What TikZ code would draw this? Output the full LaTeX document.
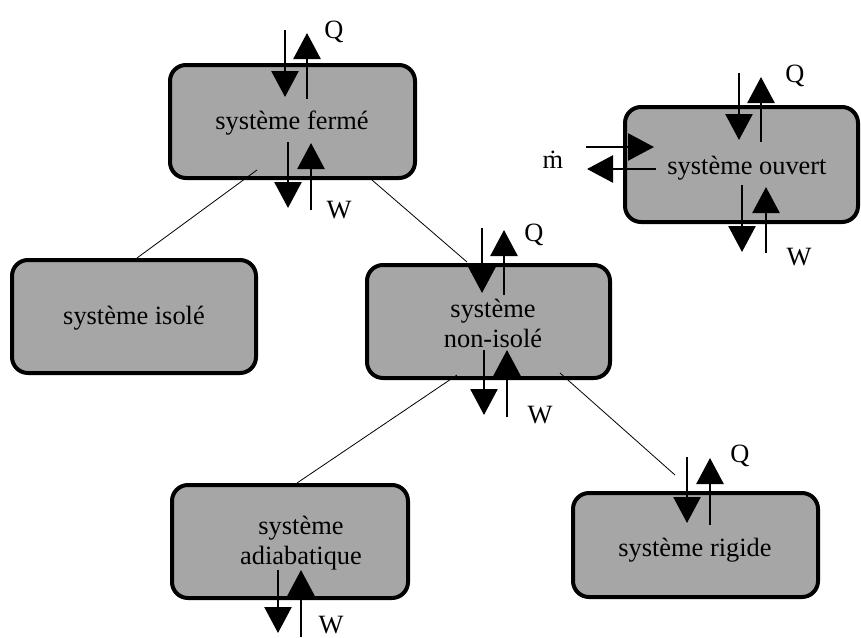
\documentclass[tikz,border=0pt]{standalone}
\usepackage{fontspec}
\setmainfont{Liberation Serif}
\usetikzlibrary{arrows.meta}
\definecolor{boxgray}{RGB}{166,166,166}
\tikzset{
  sysbox/.style={draw=black, fill=boxgray, line width=4pt, rounded corners=16pt, inner sep=0pt},
  lbl/.style={inner sep=0pt, font=\fontsize{26.4}{30}\selectfont, align=center},
  sym/.style={inner sep=0pt, anchor=base, font=\fontsize{26.4}{30}\selectfont},
  flow/.style={line width=2.6pt, -{Triangle[length=26pt,width=27pt]}},
  link/.style={line width=0.8pt}
}
\begin{document}
\begin{tikzpicture}[x=1pt,y=-1pt]
\useasboundingbox (0,0) rectangle (861,637);
% boxes
\node[sysbox, minimum width=245pt, minimum height=113pt] (ferme) at (292.5,121.5) {};
\node[sysbox, minimum width=233pt, minimum height=115pt] (ouvert) at (741.5,164.5) {};
\node[sysbox, minimum width=244pt, minimum height=113pt] (isole) at (134,316.5) {};
\node[sysbox, minimum width=243pt, minimum height=113pt] (nonisole) at (488.5,321.5) {};
\node[sysbox, minimum width=236pt, minimum height=113pt] (adiab) at (290,541.5) {};
\node[sysbox, minimum width=245pt, minimum height=104pt] (rigide) at (695.5,545) {};
% texts
\node[lbl] (fermeT) at (292,123) {système fermé};
\node[lbl] (ouvertT) at (747,168) {système ouvert};
\node[lbl] (isoleT) at (134,318) {système isolé};
\node[lbl] (nonisoleT) at (493,323) {système\\non-isolé};
\node[lbl] (adiabT) at (301,543) {système\\adiabatique};
\node[lbl] (rigideT) at (695,550) {système rigide};
% connector end points
\coordinate (c1a) at (257,170);
\coordinate (c1b) at (137,258);
\coordinate (c2a) at (372,180);
\coordinate (c2b) at (467,262);
\coordinate (c3a) at (457,375);
\coordinate (c3b) at (297,483);
\coordinate (c4a) at (560,373);
\coordinate (c4b) at (675,475);
\draw[link] (c1a) -- (c1b);
\draw[link] (c2a) -- (c2b);
\draw[link] (c3a) -- (c3b);
\draw[link] (c4a) -- (c4b);
% flows: ferme
\draw[flow] (285,30) -- (285,97);
\draw[flow] (307,99) -- (307,33);
\draw[flow] (288,142) -- (288,208);
\draw[flow] (311,210) -- (311,143);
\node[sym] (fermeQ) at (334,38) {Q};
\node[sym] (fermeW) at (339,218) {W};
% ouvert
\draw[flow] (739,73) -- (739,140);
\draw[flow] (761,142) -- (761,77);
\draw[flow] (742,185) -- (742,252);
\draw[flow] (766,253) -- (766,187);
\draw[flow] (586,147) -- (654,147);
\draw[flow] (656,169) -- (587,169);
\node[sym] (ouvertQ) at (795,82.5) {Q};
\node[sym] (ouvertW) at (799,265) {W};
\node[sym] (ouvertM) at (553,168) {\.{m}};
% non-isole
\draw[flow] (482,228) -- (482,293);
\draw[flow] (504,295) -- (504,230);
\draw[flow] (484,350) -- (484,415);
\draw[flow] (507,417) -- (507,350);
\node[sym] (nonisoleQ) at (534,241) {Q};
\node[sym] (nonisoleW) at (540,423) {W};
% adiabatique
\draw[flow] (278,570) -- (278,633);
\draw[flow] (301,637) -- (301,570);
\node[sym] (adiabW) at (331,633) {W};
% rigide
\draw[flow] (687,457) -- (687,523);
\draw[flow] (710,525) -- (710,458);
\node[sym] (rigideQ) at (740,462.5) {Q};
\end{tikzpicture}
\end{document}
